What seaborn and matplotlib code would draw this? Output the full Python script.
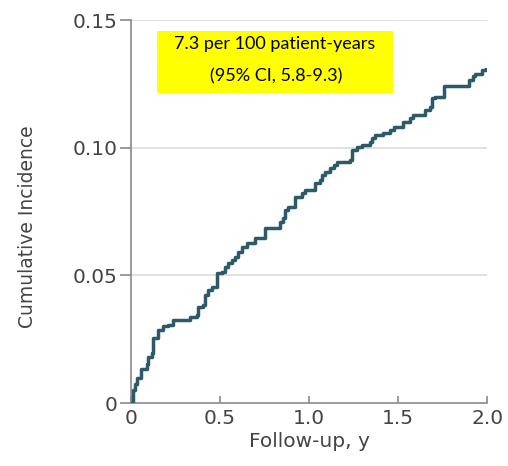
import matplotlib
matplotlib.use("Agg")
import matplotlib.pyplot as plt
import seaborn as sns
import pandas as pd
from matplotlib.patches import Rectangle

# Step points: time (y) where incidence jumps to the given value
follow_up = [0.0, 0.013, 0.02, 0.032, 0.056, 0.088, 0.097, 0.116, 0.125, 0.153,
             0.181, 0.21, 0.238, 0.331, 0.369, 0.378, 0.406, 0.416, 0.434, 0.453,
             0.481, 0.51, 0.528, 0.547, 0.566, 0.584, 0.603, 0.622, 0.65, 0.697,
             0.753, 0.837, 0.856, 0.865, 0.884, 0.921, 0.959, 0.978, 1.034, 1.062,
             1.071, 1.09, 1.118, 1.137, 1.156, 1.23, 1.24, 1.268, 1.296, 1.343,
             1.352, 1.371, 1.416, 1.455, 1.474, 1.53, 1.567, 1.586, 1.652, 1.68,
             1.689, 1.708, 1.755, 1.9, 1.92, 1.93, 1.97, 1.995]
incidence = [0.0, 0.005, 0.0075, 0.0098, 0.0135, 0.0155, 0.018, 0.0195, 0.0253, 0.0286,
             0.030, 0.0306, 0.0325, 0.0338, 0.0345, 0.0377, 0.0384, 0.0423, 0.0443, 0.0456,
             0.0508, 0.0514, 0.0534, 0.0547, 0.056, 0.0573, 0.0593, 0.0612, 0.0626, 0.0645,
             0.0684, 0.071, 0.0723, 0.0756, 0.0769, 0.0808, 0.0821, 0.0834, 0.086, 0.0873,
             0.0893, 0.0906, 0.0919, 0.0932, 0.0945, 0.0952, 0.0991, 0.1004, 0.101, 0.1024,
             0.1037, 0.105, 0.1056, 0.107, 0.1083, 0.110, 0.1115, 0.1128, 0.1148, 0.116,
             0.1193, 0.120, 0.124, 0.1265, 0.128, 0.129, 0.1305, 0.131]

x_ticks = [0, 0.5, 1.0, 1.5, 2.0]
x_tick_labels = ["0", "0.5", "1.0", "1.5", "2.0"]
y_ticks = [0, 0.05, 0.10, 0.15]
y_tick_labels = ["0", "0.05", "0.10", "0.15"]
rate_lines = ["7.3 per 100 patient-years", "(95% CI, 5.8-9.3)"]

df = pd.DataFrame({"Follow-up": follow_up, "Cumulative Incidence": incidence})

sns.set_style("white")
fig = plt.figure(figsize=(5.08, 4.66), dpi=100)
ax = fig.add_axes([0.258, 0.135, 0.701, 0.822])

# horizontal grid lines
for yv in y_ticks[1:]:
    ax.axhline(yv, color="#dcdcdc", lw=1.2, zorder=0)

sns.lineplot(data=df, x="Follow-up", y="Cumulative Incidence", ax=ax,
             drawstyle="steps-post", color="#2d5a68", lw=2.5, zorder=3)

ax.set_xlim(0, 2.0)
ax.set_ylim(0, 0.15)
ax.set_xticks(x_ticks)
ax.set_xticklabels(x_tick_labels)
ax.set_yticks(y_ticks)
ax.set_yticklabels(y_tick_labels)

for s in ["top", "right"]:
    ax.spines[s].set_visible(False)
for s in ["left", "bottom"]:
    ax.spines[s].set_color("#8a8a8a")
    ax.spines[s].set_linewidth(1.2)

ax.tick_params(axis="y", direction="out", length=8, width=1.2, color="#8a8a8a",
               labelsize=14.5, labelcolor="#444444", pad=2)
ax.tick_params(axis="x", direction="in", length=5, width=1.2, color="#8a8a8a",
               labelsize=14.5, labelcolor="#444444", pad=4)
ax.tick_params(left=True, bottom=True)

ax.set_xlabel("Follow-up, y", fontsize=14.5, color="#444444", labelpad=3)
ax.set_ylabel("Cumulative Incidence", fontsize=13.5, color="#444444")
ax.yaxis.set_label_coords(-0.265, 0.46)

# yellow rate box
ax.add_patch(Rectangle((0.073, 0.809), 0.663, 0.162, transform=ax.transAxes,
                       facecolor="#ffff00", edgecolor="none", zorder=4))
ax.text(0.404, 0.937, rate_lines[0], transform=ax.transAxes, ha="center", va="center",
        fontsize=13, family=["Lato", "DejaVu Sans"], color="black", zorder=5)
ax.text(0.408, 0.853, rate_lines[1], transform=ax.transAxes, ha="center", va="center",
        fontsize=13, family=["Lato", "DejaVu Sans"], color="black", zorder=5)

fig.savefig("out.png", dpi=100)
